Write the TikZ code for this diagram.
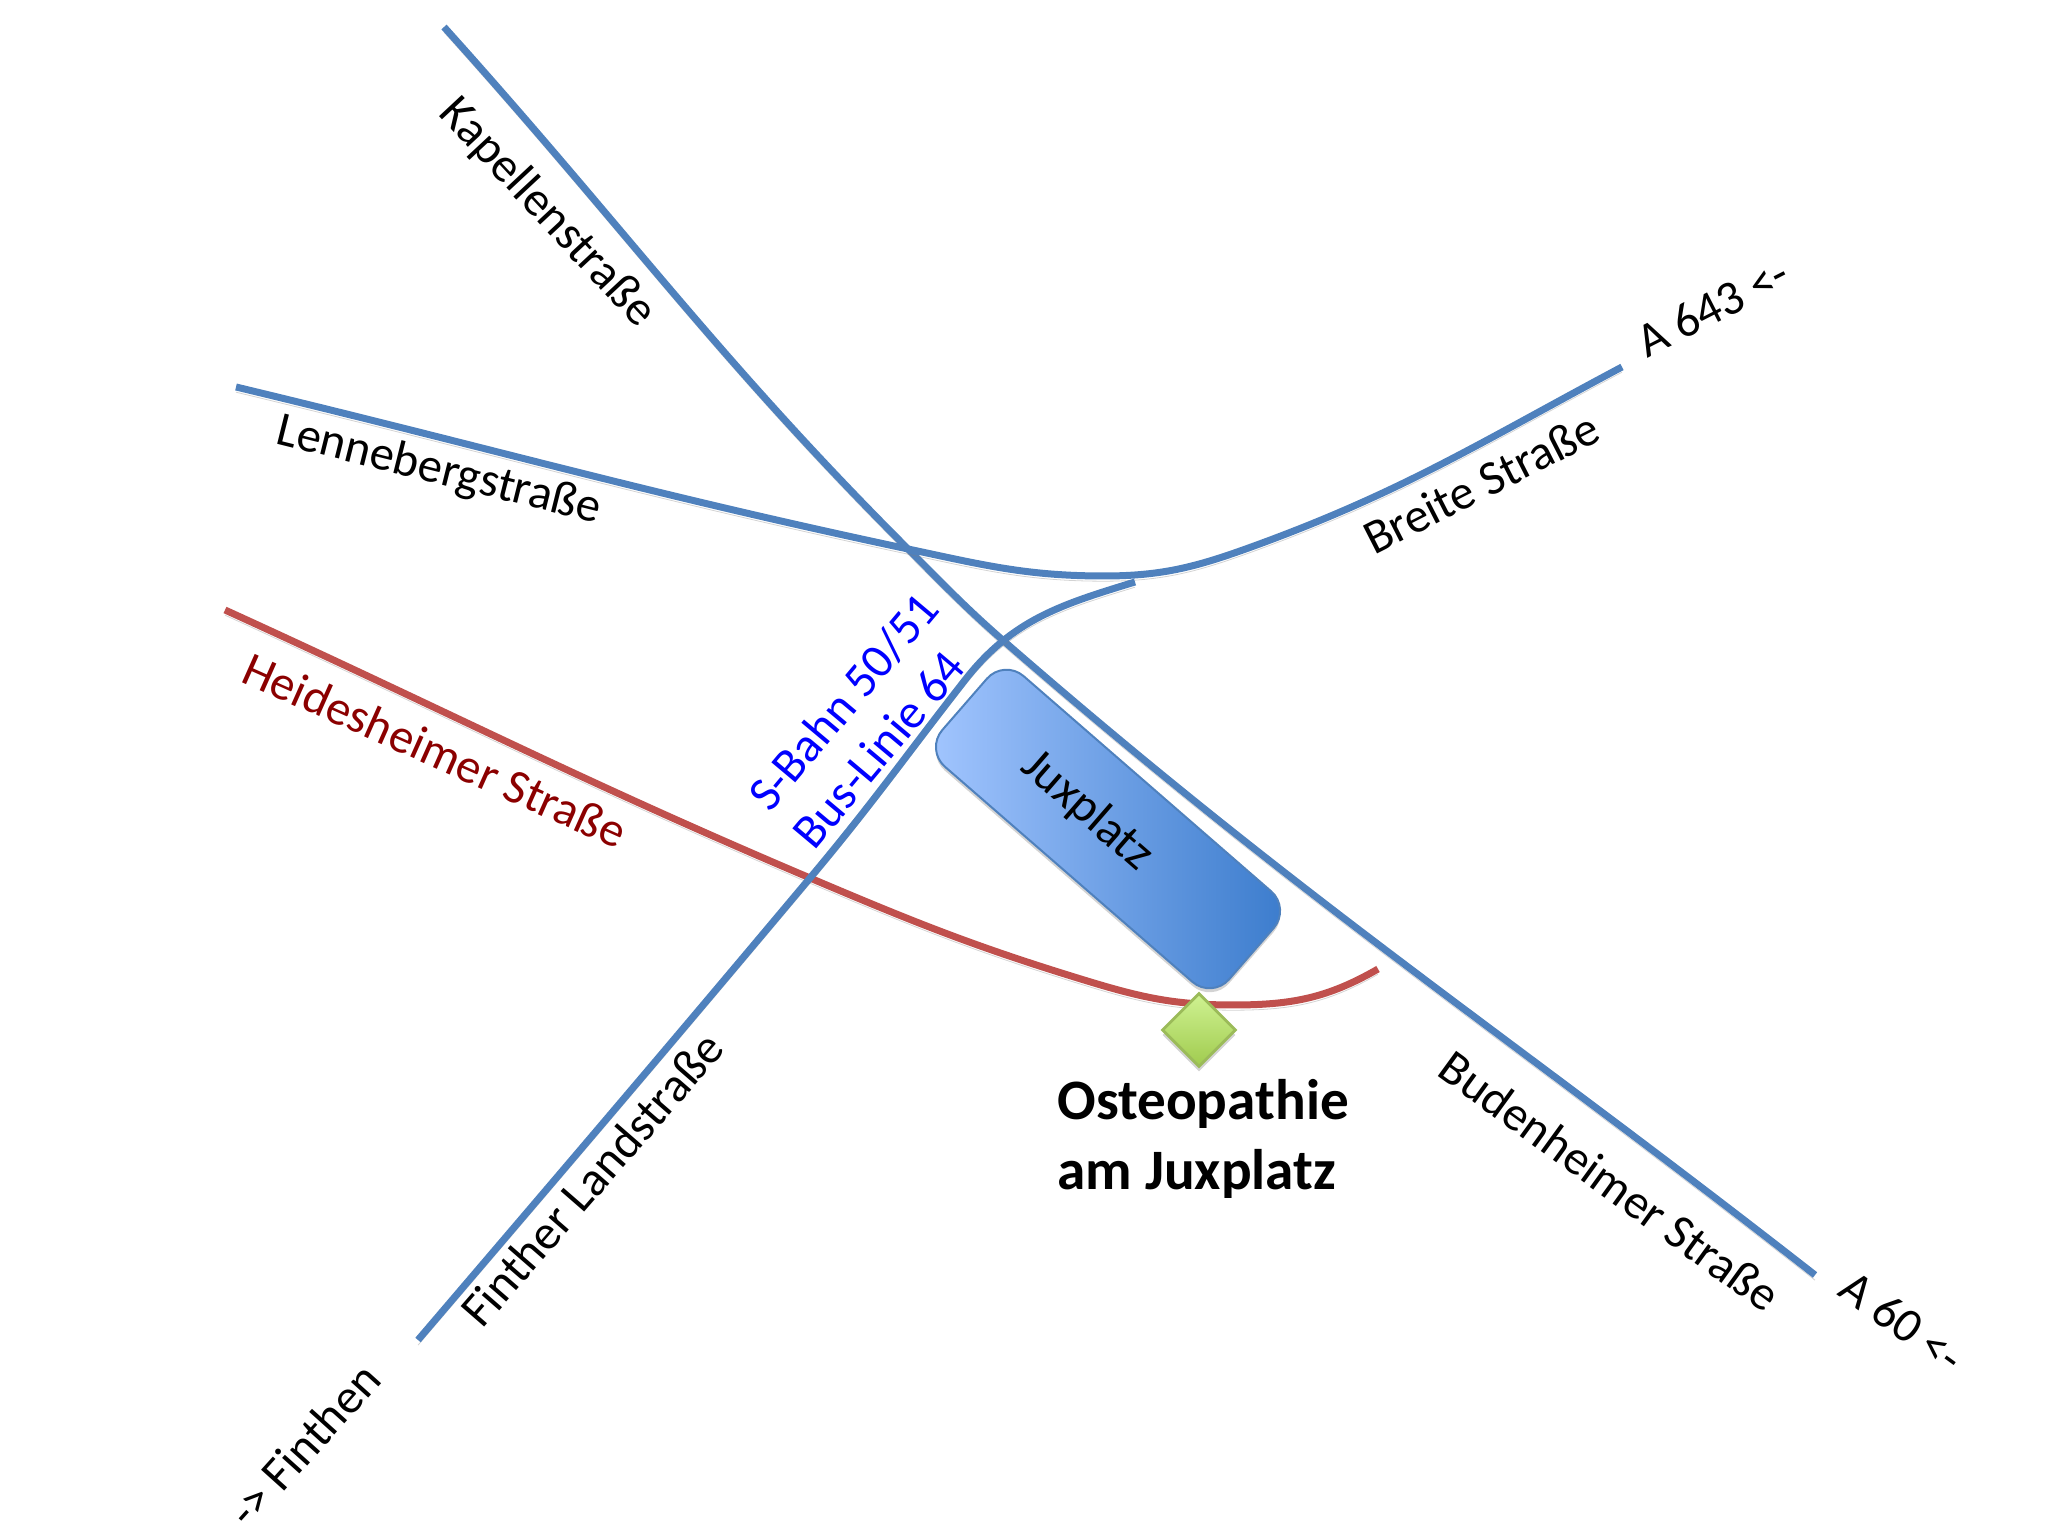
\documentclass[tikz,border=0pt]{standalone}
\usepackage{fontspec}
\setmainfont{Carlito}
\usetikzlibrary{shapes.geometric,shadows}

\definecolor{roadblue}{HTML}{4F81BD}
\definecolor{roadred}{HTML}{C0504D}
\definecolor{darkred}{HTML}{8B0000}
\definecolor{platzlight}{HTML}{A3C6FF}
\definecolor{platzdark}{HTML}{3A7BCC}
\definecolor{praxislight}{HTML}{CFF292}
\definecolor{praxisdark}{HTML}{A0CB4E}
\definecolor{praxisline}{HTML}{9BBB59}
\tikzset{
  road/.style={line width=3.5pt, draw=#1, preaction={draw=black!50, opacity=.35, transform canvas={yshift=-2.6pt}}},
  road/.default=roadblue,
  lbl/.style={font=\fontsize{24.3}{29}\selectfont, inner sep=0pt},
  platz/.style={draw=roadblue, line width=1pt, rounded corners=13pt, minimum width=190pt, minimum height=60pt,
    left color=platzlight, right color=platzdark, drop shadow={shadow xshift=0pt, shadow yshift=-2pt, opacity=.35}},
  praxis/.style={diamond, draw=praxisline, line width=1.4pt, shape aspect=1, inner sep=0pt, minimum width=37pt, minimum height=37pt,
    top color=praxislight, bottom color=praxisdark, drop shadow={shadow xshift=0pt, shadow yshift=-2.5pt, opacity=.35}}
}

\begin{document}
\begin{tikzpicture}[x=.5pt, y=.5pt]
\useasboundingbox (0,0) rectangle (2048,1536);

%road ends and bends
\coordinate (kapA) at (444,1509);
\coordinate (kapB) at (908,987);
\coordinate (kapC) at (1006,893);
\coordinate (kapD) at (1815,261);
\coordinate (lenA) at (236,1149);
\coordinate (lenB) at (908,987);
\coordinate (lenC) at (1104,960);
\coordinate (lenD) at (1254,990);
\coordinate (lenE) at (1622,1169);
\coordinate (finA) at (418,196);
\coordinate (finM) at (810,658);
\coordinate (finB) at (965,856);
\coordinate (finC) at (1135,954);
\coordinate (heiA) at (225,926);
\coordinate (heiB) at (810,658);
\coordinate (heiC) at (1084,556);
\coordinate (heiD) at (1233,531);
\coordinate (heiE) at (1378,567);

%heidesheimer
\draw[road=roadred] (heiA) to [out=-24.5, in=157] (heiB) to [out=-23, in=163] (heiC)
  to [out=-17, in=180] (heiD) to [out=0, in=-150] (heiE);
%kapellen, budenheimer
\draw[road] (kapA) to [out=-48, in=135] (kapB) to [out=-45, in=139] (kapC) to [out=-41, in=142] (kapD);
%lenneberg, breite
\draw[road] (lenA) to [out=-13.5, in=168] (lenB) to [out=-12, in=180] (lenC)
  to [out=0, in=-160] (lenD) to [out=20, in=-152] (lenE);
%finther
\draw[road] (finA) to [out=49.5, in=-130] (finM) to [out=50, in=-128] (finB) to [out=52, in=197] (finC);

\node[platz, rotate=-41] at (1108,707) (juxplatz) {};
\node[lbl, rotate=-41] at (1087,725) (juxlabel) {Juxplatz};
\node[praxis] at (1199,506) (praxis) {};

\node[lbl, rotate=-47] at (547,1323) (kapellen) {Kapellenstraße};
\node[lbl, rotate=-14] at (439,1065) (lenneberg) {Lennebergstraße};
\node[lbl, rotate=27] at (1481,1053) (breite) {Breite Straße};
\node[lbl, rotate=27] at (1713,1229) (afirst) {A 643 <-};
\node[lbl, rotate=-24, text=darkred] at (435,786) (heides) {Heidesheimer Straße};
\node[lbl, rotate=50, text=blue, align=left] at (865,816) (bahn) {S-Bahn 50/51\\Bus-Linie 64};
\node[lbl, rotate=49] at (592,357) (finther) {Finther Landstraße};
\node[lbl, rotate=48] at (304,91) (finthen) {-> Finthen};
\node[lbl, rotate=-36] at (1610,355) (buden) {Budenheimer Straße};
\node[lbl, rotate=-36] at (1902,214) (asecond) {A 60 <-};
\node[inner sep=0pt, align=left, anchor=north west, font=\fontsize{28.6}{35}\selectfont\bfseries] at (1057,457) (name) {Osteopathie\\am Juxplatz};

\end{tikzpicture}
\end{document}
